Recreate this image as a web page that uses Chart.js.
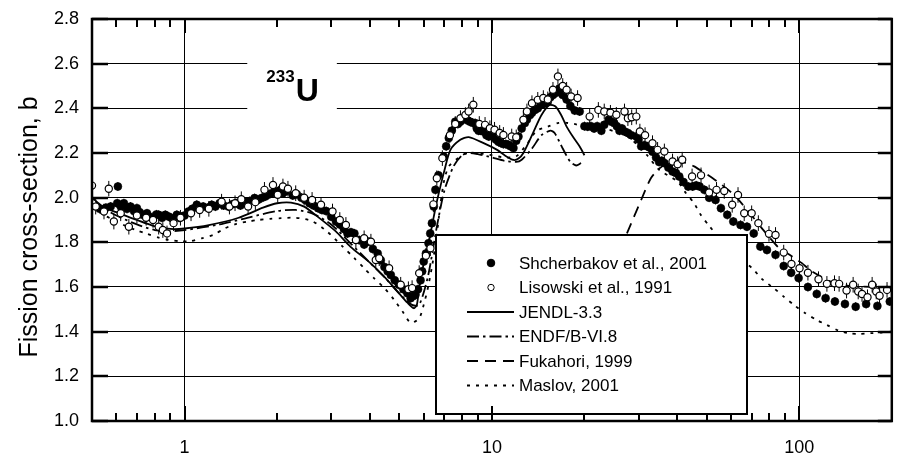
<!DOCTYPE html>
<html><head><meta charset="utf-8">
<script src="https://cdn.jsdelivr.net/npm/chart.js@4.4.0/dist/chart.umd.min.js"></script>
<style>html,body{margin:0;padding:0;background:#fff;}</style>
</head><body>
<canvas id="c" width="897" height="455"></canvas>
<script>
// ---------- DATA ----------
const shchE = [0.53,0.555,0.575,0.604,0.607,0.62,0.635,0.65,0.667,0.685,0.70,0.715,0.73,0.755,0.77,0.79,0.81,0.824,0.845,0.866,0.89,0.91,0.944,0.96,0.98,1.0,1.03,1.06,1.096,1.12,1.15,1.19,1.226,1.26,1.3,1.34,1.39,1.43,1.48,1.52,1.57,1.63,1.69,1.73,1.78,1.83,1.87,1.92,1.97,2.02,2.06,2.09,2.15,2.25,2.32,2.4,2.47,2.55,2.63,2.72,2.8,2.89,3.0,3.11,3.2,3.3,3.39,3.48,3.57,3.7,3.84,3.98,4.1,4.25,4.35,4.47,4.58,4.69,4.83,4.98,5.15,5.31,5.44,5.55,5.64,5.75,5.86,5.93,6.0,6.1,6.22,6.3,6.38,6.47,6.55,6.7,6.97,7.1,7.24,7.4,7.6,7.75,7.89,8.05,8.2,8.35,8.5,8.65,8.82,8.93,9.05,9.2,9.4,9.6,9.77,9.95,10.1,10.3,10.5,10.7,10.9,11.1,11.3,11.5,11.75,12.0,12.2,12.5,12.8,13.0,13.3,13.5,13.8,14.1,14.5,14.8,15.2,15.5,15.8,16.2,16.6,17.0,17.5,18.0,18.6,19.3,20.0,20.5,21.0,21.5,22.0,22.7,23.2,24.0,24.5,25.0,25.5,26.0,26.5,27.0,27.7,28.4,29.5,30.0,30.6,31.3,32.0,32.6,33.3,34.2,35.0,35.7,36.4,37.5,38.7,39.7,40.7,42.0,43.5,45.0,46.2,47.4,49.1,50.9,53.4,55.6,58.3,61.0,64.4,67.6,71.1,74.7,78.5,83.7,89,94.1,99.5,106.7,114,121.8,130.6,140.8,152.6,165,179.5,197];
const shchS = [1.95,1.955,1.96,1.975,2.05,1.96,1.975,1.95,1.96,1.94,1.953,1.935,1.923,1.93,1.915,1.908,1.925,1.923,1.91,1.923,1.915,1.908,1.923,1.91,1.915,1.92,1.938,1.95,1.968,1.955,1.96,1.955,1.968,1.96,1.975,1.965,1.96,1.97,1.975,1.965,1.982,1.985,1.998,1.99,1.998,2.005,2.013,2.02,2.027,2.03,2.035,2.02,2.03,2.01,2.015,2.0,1.99,1.975,1.965,1.953,1.945,1.94,1.915,1.893,1.88,1.86,1.84,1.845,1.84,1.81,1.79,1.803,1.77,1.75,1.72,1.69,1.67,1.654,1.63,1.61,1.59,1.572,1.55,1.56,1.565,1.59,1.63,1.67,1.714,1.75,1.796,1.84,1.886,1.96,2.035,2.1,2.184,2.23,2.267,2.30,2.34,2.33,2.34,2.35,2.356,2.345,2.34,2.335,2.334,2.31,2.30,2.30,2.296,2.28,2.274,2.285,2.28,2.26,2.25,2.245,2.24,2.24,2.237,2.23,2.222,2.255,2.274,2.31,2.334,2.35,2.37,2.38,2.393,2.40,2.416,2.42,2.43,2.45,2.46,2.47,2.49,2.46,2.44,2.41,2.39,2.386,2.32,2.318,2.32,2.31,2.32,2.30,2.326,2.35,2.34,2.334,2.32,2.30,2.31,2.296,2.29,2.28,2.274,2.26,2.23,2.235,2.23,2.225,2.206,2.18,2.16,2.165,2.155,2.135,2.117,2.11,2.095,2.07,2.05,2.05,2.055,2.05,2.035,2.0,1.99,1.953,1.923,1.893,1.878,1.87,1.84,1.781,1.766,1.744,1.694,1.664,1.64,1.6,1.569,1.55,1.535,1.524,1.512,1.524,1.515,1.535];
const shchErr = 0.02;

const lisE = [0.5,0.502,0.514,0.547,0.567,0.589,0.62,0.659,0.7,0.75,0.79,0.824,0.85,0.877,0.921,0.97,1.05,1.12,1.2,1.32,1.4,1.46,1.53,1.61,1.7,1.82,1.94,2.01,2.09,2.17,2.3,2.45,2.6,2.78,3.03,3.2,3.35,3.61,3.84,4.04,4.19,4.3,4.63,5.05,5.35,5.5,5.8,6.1,6.31,6.45,6.62,6.9,7.3,7.6,7.9,8.2,8.4,8.7,9.1,9.5,9.85,10.2,10.6,10.9,11.6,12.0,12.66,13.0,13.5,14.1,14.7,15.2,15.8,16.4,17.0,17.5,18.1,19.0,20.8,22.2,23.2,24.3,25.4,27.0,27.7,28.5,29.5,30.3,31.5,33.3,34.6,36.4,38.7,40.2,41.6,44.8,47.9,50.9,53.8,57.0,60.5,63.2,66.2,70.0,73.6,79.7,83.7,89.0,94.3,100.2,106.7,115.5,123,130.2,134.8,142.5,149.7,155.5,160,166.7,172.6,178,182.5,193];
const lisS = [2.054,1.975,1.96,1.938,2.04,1.893,1.93,1.87,1.92,1.91,1.90,1.87,1.855,1.84,1.886,1.91,1.93,1.945,1.95,1.982,1.96,1.975,1.993,1.96,1.98,2.035,2.057,2.013,2.05,2.04,2.02,2.0,1.99,1.968,1.938,1.9,1.878,1.81,1.818,1.803,1.721,1.729,1.684,1.61,1.59,1.595,1.662,1.74,1.774,1.97,2.087,2.177,2.28,2.33,2.356,2.37,2.386,2.416,2.33,2.326,2.311,2.304,2.29,2.281,2.274,2.27,2.349,2.386,2.423,2.438,2.446,2.44,2.483,2.543,2.5,2.483,2.453,2.446,2.363,2.393,2.386,2.38,2.371,2.386,2.356,2.36,2.363,2.296,2.28,2.244,2.214,2.207,2.162,2.15,2.17,2.095,2.10,2.023,2.035,2.03,1.968,2.012,1.93,1.93,1.886,1.838,1.833,1.754,1.703,1.684,1.664,1.635,1.614,1.617,1.614,1.584,1.61,1.58,1.569,1.554,1.61,1.58,1.561,1.587];
const lisErr = 0.035;

const jendlE = [0.5,0.52,0.55,0.6,0.7,0.8,0.9,1.0,1.2,1.5,1.8,2.0,2.22,2.45,2.71,3.1,3.47,4.0,4.47,5.0,5.31,5.57,5.7,5.8,6.0,6.23,6.47,6.64,7.0,7.33,7.89,8.41,9.4,10.4,11.0,11.75,12.2,12.66,13.6,14.5,15.4,16.1,16.8,17.5,18.4,19.3,20];
const jendlS = [2.0,1.98,1.955,1.935,1.9,1.872,1.86,1.862,1.877,1.91,1.955,1.975,1.978,1.96,1.915,1.85,1.78,1.71,1.645,1.57,1.53,1.505,1.52,1.6,1.706,1.80,1.915,1.99,2.12,2.214,2.259,2.271,2.244,2.214,2.19,2.169,2.175,2.2,2.289,2.37,2.415,2.408,2.37,2.318,2.27,2.229,2.19];

const endfE = [0.5,0.55,0.6,0.7,0.8,0.9,1.0,1.3,1.6,2.0,2.3,2.6,3.0,3.5,4.0,4.5,5.0,5.5,5.8,6.2,6.6,7.0,7.5,8.0,8.5,9.0,10.0,11.0,12.0,12.5,13.5,14.5,15.5,16.0,17.0,18.0,18.8,19.5];
const endfS = [1.99,1.95,1.92,1.88,1.855,1.85,1.855,1.88,1.91,1.94,1.945,1.93,1.88,1.79,1.71,1.64,1.57,1.52,1.52,1.65,1.86,2.03,2.14,2.19,2.2,2.195,2.18,2.165,2.16,2.17,2.22,2.28,2.30,2.29,2.22,2.16,2.144,2.155];

const fukaE = [27.5,30.6,32.9,35,37,40,43,45.5,48.4,52.3,56,60.5,63.5,70,78,86,93,102,108,118,127,145,177,200];
const fukaS = [1.84,1.99,2.087,2.13,2.15,2.16,2.155,2.14,2.117,2.087,2.057,2.02,1.99,1.92,1.84,1.774,1.744,1.707,1.677,1.646,1.624,1.605,1.6,1.6];

const maslovE = [0.5,0.55,0.6,0.65,0.692,0.755,0.824,0.888,0.968,1.043,1.137,1.24,1.354,1.477,1.61,1.735,1.895,2.06,2.3,2.6,2.9,3.27,3.57,3.84,4.14,4.47,4.81,5.12,5.44,5.8,6.0,6.2,6.4,6.6,6.8,7.0,7.24,7.8,8.3,9,10,11,12,13,14,15.2,16.5,17.5,18.5,20,23,26,28,30,32,35,40.2,42.8,45.5,47.8,50.9,55,60,65,70.3,75.7,82.6,89,96.6,104.6,114,123,134,144.5,157,170,185,200];
const maslovS = [1.96,1.92,1.895,1.87,1.856,1.838,1.821,1.811,1.805,1.805,1.818,1.833,1.863,1.883,1.893,1.90,1.905,1.908,1.91,1.895,1.85,1.781,1.729,1.684,1.639,1.595,1.542,1.49,1.44,1.46,1.52,1.6,1.7,1.82,1.97,2.08,2.14,2.18,2.2,2.2,2.19,2.18,2.185,2.24,2.3,2.318,2.335,2.335,2.33,2.32,2.31,2.29,2.27,2.23,2.19,2.125,2.072,2.02,1.975,1.923,1.874,1.82,1.77,1.72,1.684,1.635,1.595,1.557,1.517,1.483,1.452,1.43,1.405,1.393,1.39,1.393,1.396,1.40];

const xTickLabels = [1, 10, 100];
const xRange = [0.5, 200];
const yRange = [1.0, 2.8];
const yStep = 0.2;

const seriesNames = ['Shcherbakov et al., 2001','Lisowski et al., 1991','JENDL-3.3','ENDF/B-VI.8','Fukahori, 1999','Maslov, 2001'];
const isotopeMass = '233';
const isotopeSym = 'U';
const yTitle = 'Fission cross-section, b';

// ---------- BUILD ----------
const pts = (xs, ys) => xs.map((x, i) => ({x, y: ys[i]}));
const FONT = "'Liberation Sans', Arial, Helvetica, sans-serif";
Chart.defaults.font.family = FONT;
Chart.defaults.color = '#000';

const dashStyles = {
  jendl: [],
  endf: [12, 4, 2.5, 4],
  fuka: [11, 7],
  maslov: [3, 6]
};

const lineDS = (label, xs, ys, dash) => ({
  label, data: pts(xs, ys), showLine: true, pointRadius: 0, borderColor: '#000',
  backgroundColor: '#000', borderWidth: 1.8, borderDash: dash, tension: 0.25, fill: false, order: 3
});

const datasets = [
  {label: seriesNames[0], data: pts(shchE, shchS), pointRadius: 4, pointBackgroundColor: '#000', pointBorderColor: '#000', pointBorderWidth: 0.5, showLine: false, errBar: shchErr, order: 2},
  {label: seriesNames[1], data: pts(lisE, lisS), pointRadius: 3.6, pointBackgroundColor: '#fff', pointBorderColor: '#000', pointBorderWidth: 1.2, showLine: false, errBar: lisErr, order: 1},
  lineDS(seriesNames[2], jendlE, jendlS, dashStyles.jendl),
  lineDS(seriesNames[3], endfE, endfS, dashStyles.endf),
  lineDS(seriesNames[4], fukaE, fukaS, dashStyles.fuka),
  lineDS(seriesNames[5], maslovE, maslovS, dashStyles.maslov)
];

const minorX = [];
for (let dec = 0.1; dec <= 100; dec *= 10) {
  for (let m = 1; m <= 9; m++) {
    const v = +(m * dec).toPrecision(3);
    if (v >= xRange[0] && v <= xRange[1]) minorX.push(v);
  }
}

const decorPlugin = {
  id: 'decor',
  beforeDatasetsDraw(chart) {
    const {ctx, scales: {x, y}} = chart;
    const bx0 = x.getPixelForValue(1.6), bx1 = x.getPixelForValue(3.13);
    const by0 = y.getPixelForValue(2.7), by1 = y.getPixelForValue(2.3);
    ctx.save();
    ctx.fillStyle = '#fff';
    ctx.fillRect(bx0, by0, bx1 - bx0, by1 - by0);
    ctx.fillStyle = '#000';
    ctx.textBaseline = 'alphabetic';
    ctx.font = 'bold 17px ' + FONT;
    ctx.fillText(isotopeMass, bx0 + 19, by0 + 41);
    const w = ctx.measureText(isotopeMass).width;
    ctx.font = 'bold 32px ' + FONT;
    ctx.fillText(isotopeSym, bx0 + 20 + w, by0 + 60);
    ctx.restore();
    // error bars
    ctx.save();
    ctx.beginPath();
    ctx.rect(chart.chartArea.left, chart.chartArea.top, chart.chartArea.width, chart.chartArea.height);
    ctx.clip();
    ctx.strokeStyle = '#000';
    ctx.lineWidth = 1;
    chart.data.datasets.forEach((ds) => {
      if (!ds.errBar) return;
      ds.data.forEach(p => {
        const px = x.getPixelForValue(p.x);
        ctx.beginPath();
        ctx.moveTo(px, y.getPixelForValue(p.y - ds.errBar));
        ctx.lineTo(px, y.getPixelForValue(p.y + ds.errBar));
        ctx.stroke();
      });
    });
    ctx.restore();
  },
  afterDraw(chart) {
    const {ctx, chartArea: a, scales: {x, y}} = chart;
    ctx.save();
    const lx0 = Math.round(x.getPixelForValue(6.59)), lx1 = Math.round(x.getPixelForValue(67.4));
    const ly0 = Math.round(y.getPixelForValue(1.833)), ly1 = Math.round(y.getPixelForValue(1.031));
    ctx.fillStyle = '#fff';
    ctx.fillRect(lx0, ly0, lx1 - lx0, ly1 - ly0);
    ctx.strokeStyle = '#000';
    ctx.lineWidth = 2;
    ctx.strokeRect(lx0, ly0, lx1 - lx0, ly1 - ly0);
    ctx.font = '17px ' + FONT;
    ctx.textBaseline = 'middle';
    ctx.fillStyle = '#000';
    chart.data.datasets.forEach((ds, i) => {
      const ry = ly0 + 28 + i * 24.5;
      if (ds.showLine) {
        ctx.save();
        ctx.setLineDash(ds.borderDash || []);
        ctx.lineWidth = ds.borderWidth;
        ctx.beginPath();
        ctx.moveTo(lx0 + 31, ry);
        ctx.lineTo(lx0 + 78, ry);
        ctx.stroke();
        ctx.restore();
      } else {
        ctx.beginPath();
        ctx.arc(lx0 + 55, ry, i === 0 ? 3.8 : 3.2, 0, Math.PI * 2);
        ctx.fillStyle = ds.pointBackgroundColor;
        ctx.fill();
        ctx.lineWidth = 1;
        ctx.stroke();
        ctx.fillStyle = '#000';
      }
      ctx.fillText(ds.label, lx0 + 83, ry + 1);
    });
    ctx.strokeStyle = '#000';
    ctx.lineWidth = 2;
    ctx.setLineDash([]);
    minorX.forEach(v => {
      const px = Math.round(x.getPixelForValue(v));
      const major = xTickLabels.includes(v);
      ctx.beginPath();
      ctx.moveTo(px, a.bottom); ctx.lineTo(px, a.bottom - (major ? 15 : 8));
      ctx.moveTo(px, a.top); ctx.lineTo(px, a.top + (major ? 14 : 8));
      ctx.stroke();
    });
    ctx.lineWidth = 2.5;
    for (let v = yRange[0]; v <= yRange[1] + 1e-9; v += yStep) {
      const py = Math.round(y.getPixelForValue(v));
      ctx.beginPath();
      ctx.moveTo(a.left, py); ctx.lineTo(a.left + 16, py);
      ctx.moveTo(a.right, py); ctx.lineTo(a.right - 14, py);
      ctx.stroke();
    }
    ctx.lineWidth = 2.5;
    ctx.strokeRect(a.left, a.top, a.right - a.left, a.bottom - a.top);
    ctx.translate(37, 227);
    ctx.rotate(-Math.PI / 2);
    ctx.font = '25px ' + FONT;
    ctx.textAlign = 'center';
    ctx.textBaseline = 'alphabetic';
    ctx.fillText(yTitle, 0, 0);
    ctx.restore();
  }
};

new Chart(document.getElementById('c'), {
  type: 'scatter',
  data: {datasets},
  options: {
    responsive: false,
    animation: false,
    devicePixelRatio: 1,
    layout: {padding: {top: 19, right: -1.2, left: 0, bottom: 0}},
    plugins: {legend: {display: false}, tooltip: {enabled: false}},
    scales: {
      x: {
        type: 'logarithmic', min: xRange[0], max: xRange[1],
        afterBuildTicks: s => { s.ticks = xTickLabels.map(v => ({value: v})); },
        afterFit: s => { s.height = 34; s.paddingLeft = 0; s.paddingRight = 0; },
        grid: {color: '#000', lineWidth: 1, drawTicks: false},
        border: {display: false},
        ticks: {autoSkip: false, maxRotation: 0, padding: 16, font: {size: 18}, callback: v => String(v)}
      },
      y: {
        min: yRange[0], max: yRange[1],
        afterFit: s => { s.width = 92; s.paddingTop = 0; s.paddingBottom = 0; },
        grid: {color: '#000', lineWidth: 1, drawTicks: false},
        border: {display: false},
        ticks: {stepSize: yStep, padding: 13, font: {size: 18}, callback: v => v.toFixed(1)}
      }
    }
  },
  plugins: [decorPlugin]
});
</script>
</body></html>
